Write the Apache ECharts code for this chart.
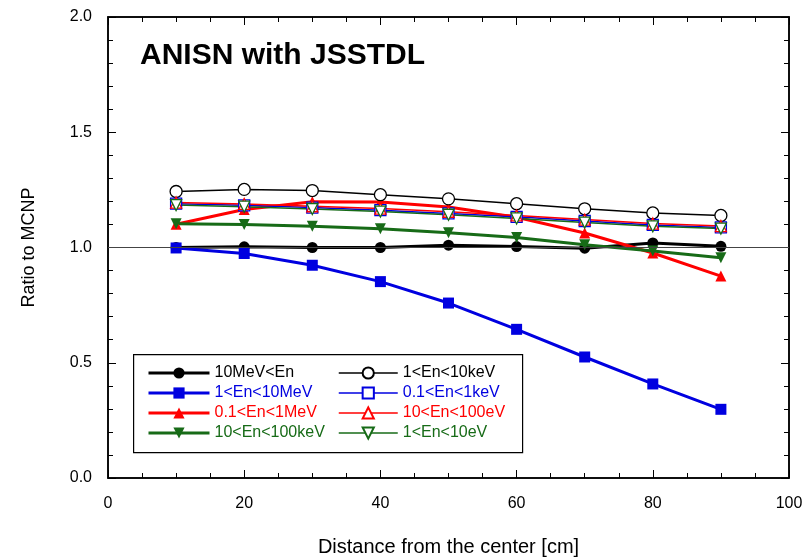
<!DOCTYPE html>
<html><head><meta charset="utf-8">
<script src="https://cdn.jsdelivr.net/npm/echarts@6/dist/echarts.min.js"></script>
<style>html,body{margin:0;padding:0;background:#fff}#c{width:806px;height:559px}</style>
</head><body><div id="c"></div>
<script>
const distance = [10, 20, 30, 40, 50, 60, 70, 80, 90];
const xTicks = [0, 20, 40, 60, 80, 100];
const yTicks = [0.0, 0.5, 1.0, 1.5, 2.0];
const names = ['10MeV<En', '1<En<10MeV', '0.1<En<1MeV', '10<En<100keV', '1<En<10keV', '0.1<En<1keV', '10<En<100eV', '1<En<10eV'];
const e10MeVup   = [1.000, 1.003, 1.000, 1.000, 1.010, 1.004, 0.997, 1.020, 1.005];
const e1to10MeV  = [0.998, 0.974, 0.923, 0.852, 0.759, 0.645, 0.525, 0.408, 0.298];
const e01to1MeV  = [1.101, 1.165, 1.198, 1.197, 1.176, 1.131, 1.063, 0.976, 0.876];
const e10to100keV= [1.103, 1.100, 1.092, 1.081, 1.064, 1.043, 1.012, 0.985, 0.956];
const e1to10keV  = [1.243, 1.252, 1.247, 1.229, 1.211, 1.190, 1.168, 1.150, 1.139];
const e01to1keV  = [1.190, 1.183, 1.173, 1.162, 1.148, 1.133, 1.115, 1.098, 1.087];
const e10to100eV = [1.195, 1.189, 1.179, 1.169, 1.155, 1.139, 1.121, 1.104, 1.093];
const e1to10eV   = [1.184, 1.177, 1.167, 1.156, 1.142, 1.126, 1.108, 1.092, 1.082];

const BLACK = '#000000', BLUE = '#0000e0', RED = '#ff0000', GREEN = '#176b17';
const FONT = 'Liberation Sans';
const pairs = (ys) => distance.map((x, i) => [x, ys[i]]);

function mk(name, ys, color, symbol, rotate, size, lw, filled) {
  return {
    name: name, type: 'line', data: pairs(ys),
    symbol: symbol, symbolSize: size, symbolRotate: rotate,
    lineStyle: { color: color, width: lw },
    itemStyle: filled ? { color: color } : { color: '#ffffff', borderColor: color, borderWidth: 1.3 },
    color: color,
    animation: false, z: 3
  };
}
const series = [
  mk(names[0], e10MeVup, BLACK, 'circle', 0, 11, 3, true),
  mk(names[1], e1to10MeV, BLUE, 'rect', 0, 11, 3, true),
  mk(names[2], e01to1MeV, RED, 'triangle', 0, 11, 3, true),
  mk(names[3], e10to100keV, GREEN, 'triangle', 180, 11, 3, true),
  mk(names[4], e1to10keV, BLACK, 'circle', 0, 12, 1.5, false),
  mk(names[5], e01to1keV, BLUE, 'rect', 0, 11, 1.5, false),
  mk(names[6], e10to100eV, RED, 'triangle', 0, 11, 1.5, false),
  mk(names[7], e1to10eV, GREEN, 'triangle', 180, 11, 1.5, false)
];
series[0].markLine = {
  silent: true, symbol: 'none', label: { show: false },
  lineStyle: { color: '#444', width: 1, type: 'solid' },
  data: [{ yAxis: 1.0 }]
};
series[0].z = 2;
// invisible helper so the mirrored top/right axes are drawn
series.push({ type: 'line', xAxisIndex: 1, yAxisIndex: 1, data: [], symbol: 'none', silent: true });
const colors = [BLACK, BLUE, RED, GREEN, BLACK, BLUE, RED, GREEN];

function legendFor(idxs, left, iw) {
  return {
    orient: 'vertical', left: left, top: 363, padding: 0, itemGap: 0,
    itemWidth: iw, itemHeight: 14, selectedMode: false,
    lineStyle: { width: 'inherit' },
    textStyle: { fontFamily: FONT, fontSize: 16, lineHeight: 20 },
    data: idxs.map(i => ({ name: names[i], textStyle: { color: colors[i], fontFamily: FONT, fontSize: 16 } }))
  };
}

const axisCommon = {
  axisLine: { show: true, onZero: false, lineStyle: { color: '#000', width: 1.5 } },
  splitLine: { show: false },
};

const option = {
  animation: false,
  backgroundColor: '#fff',
  grid: { left: 108, top: 17, right: 17, bottom: 81, containLabel: false, outerBoundsMode: 'none',
          show: true, borderColor: '#000', borderWidth: 1.5 },
  title: {
    text: 'ANISN with JSSTDL', left: 135, top: 36,
    textStyle: { fontFamily: FONT, fontSize: 30, fontWeight: 'bold', color: '#000' }
  },
  legend: [legendFor([0, 1, 2, 3], 147, 61), legendFor([4, 5, 6, 7], 338, 59)],
  graphic: [{
    type: 'rect', left: 133, top: 354, z: 1,
    shape: { width: 389, height: 98 },
    style: { fill: '#fff', stroke: '#000', lineWidth: 1.2 }
  }],
  xAxis: [
    Object.assign({}, axisCommon, {
      type: 'value', min: xTicks[0], max: xTicks[xTicks.length - 1], interval: 20,
      name: 'Distance from the center [cm]', nameLocation: 'middle', nameGap: 59,
      nameTextStyle: { fontFamily: FONT, fontSize: 20, color: '#000' },
      axisTick: { inside: true, length: 8, lineStyle: { color: '#000', width: 1 } },
      minorTick: { show: true, splitNumber: 4, length: 5, lineStyle: { color: '#000', width: 1 } },
      axisLabel: { fontFamily: FONT, fontSize: 16, color: '#000', margin: 18 }
    }),
    Object.assign({}, axisCommon, {
      type: 'value', position: 'top', show: true, min: xTicks[0], max: xTicks[xTicks.length - 1], interval: 20,
      axisTick: { show: true, inside: true, length: 8, lineStyle: { color: '#000', width: 1 } },
      minorTick: { show: true, splitNumber: 4, length: 5, lineStyle: { color: '#000', width: 1 } },
      axisLabel: { show: false }
    })
  ],
  yAxis: [
    Object.assign({}, axisCommon, {
      type: 'value', min: yTicks[0], max: yTicks[yTicks.length - 1], interval: 0.5,
      name: 'Ratio to MCNP', nameLocation: 'middle', nameGap: 70, nameRotate: 90,
      nameTextStyle: { fontFamily: FONT, fontSize: 18, color: '#000' },
      axisTick: { inside: true, length: 8, lineStyle: { color: '#000', width: 1 } },
      minorTick: { show: true, splitNumber: 5, length: 5, lineStyle: { color: '#000', width: 1 } },
      axisLabel: { fontFamily: FONT, fontSize: 16, color: '#000', margin: 16, formatter: v => v.toFixed(1) }
    }),
    Object.assign({}, axisCommon, {
      type: 'value', position: 'right', show: true, min: yTicks[0], max: yTicks[yTicks.length - 1], interval: 0.5,
      axisTick: { show: true, inside: true, length: 8, lineStyle: { color: '#000', width: 1 } },
      minorTick: { show: true, splitNumber: 5, length: 5, lineStyle: { color: '#000', width: 1 } },
      axisLabel: { show: false }
    })
  ],
  series: series
};
const chart = echarts.init(document.getElementById('c'), null, { renderer: 'canvas' });
chart.setOption(option);
</script></body></html>
